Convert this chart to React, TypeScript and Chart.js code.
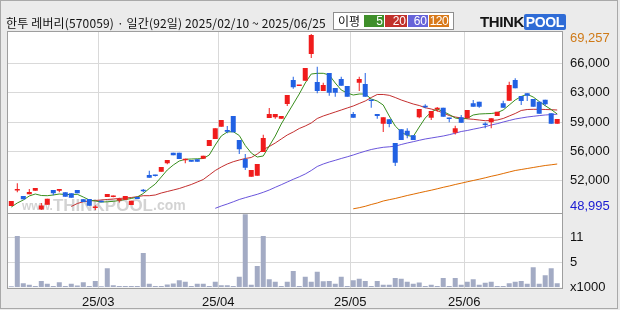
import React, { useEffect, useRef } from "react";
import { Chart, registerables } from "chart.js";

Chart.register(...registerables);

// ---------------- text ----------------
const TITLE = "한투 레버리(570059) · 일간(92일) 2025/02/10 ~ 2025/06/25";
const MA_LABEL = "이평";
const MA_PERIODS = ["5", "20", "60", "120"];
const WATERMARK = ["www.", "THINKPOOL", ".com"];

// ---------------- data (92 trading days, 2025/02/10 ~ 2025/06/25) ----------------
const opens = [
  49460, 51250, 50610, 50800, 51215, 49060, 49600, 51300, 51220, 51030,
  50920, 51300, 50230, 50260, 49230, 50070, 50490, 50500, 50100, 50180,
  49570, 50490, 51300, 53020, 53000, 53400, 54370, 55590, 55590, 54720,
  54750, 54830, 54900, 56360, 57170, 58590, 58200, 59820, 57050, 54870,
  52830, 52940, 55670, 59590, 59660, 59510, 61200, 63960, 63270, 63880,
  66950, 63730, 62700, 64770, 63040, 64080, 63270, 60050, 63650, 63500,
  61660, 60050, 58930, 59440, 56710, 58290, 58130, 57590, 59670, 61010,
  59620, 60580, 60770, 59620, 57890, 59670, 59550, 61280, 61470, 58900,
  59090, 59820, 61280, 61580, 63960, 62120, 62430, 61770, 61470, 61690,
  60130, 58930,
];
const highs = [
  50030, 52070, 50610, 51410, 51530, 49790, 50300, 51300, 51410, 51030,
  50920, 51300, 50230, 50260, 49530, 50070, 50840, 50650, 50400, 50610,
  50070, 50490, 51410, 53520, 53050, 53950, 54750, 55590, 55590, 54900,
  54750, 54830, 55250, 57050, 58400, 59360, 58660, 59820, 57050, 55440,
  53600, 54290, 57660, 60740, 60050, 59820, 62230, 64340, 63380, 65340,
  69257, 65490, 63650, 64770, 63040, 64340, 63270, 60280, 64340, 64770,
  61660, 60050, 59670, 59440, 56710, 58290, 58400, 57590, 60620, 61160,
  60390, 60850, 60770, 59620, 58680, 59930, 60510, 61660, 61470, 59100,
  59550, 60310, 61580, 63770, 64160, 62120, 62430, 61770, 61470, 61690,
  60130, 59470,
];
const lows = [
  49460, 51030, 50230, 50800, 51215, 48995, 49600, 50690, 51030, 50530,
  50410, 50920, 49920, 49490, 49000, 49880, 50490, 50450, 49850, 50180,
  49570, 50260, 51030, 52700, 52850, 53400, 54250, 55290, 54870, 54370,
  54560, 54560, 54900, 56360, 57170, 58590, 57820, 57940, 55440, 53600,
  52830, 52940, 55670, 59590, 59500, 59510, 60970, 62960, 63270, 63880,
  66490, 62430, 62700, 62150, 62040, 63300, 62040, 59620, 62700, 62040,
  60780, 59510, 57980, 58520, 54060, 57050, 57250, 57050, 59550, 60700,
  59360, 60320, 59740, 59090, 57700, 59050, 59550, 60890, 60770, 58400,
  58400, 59820, 60770, 61580, 63000, 61080, 61540, 60890, 60090, 61000,
  58930, 58930,
];
const closes = [
  50030, 51300, 50230, 51070, 51530, 49500, 50300, 50920, 51410, 50530,
  50410, 50920, 49920, 49490, 49260, 49880, 50840, 50600, 50150, 50610,
  50070, 50260, 51150, 52700, 52900, 53950, 54750, 55290, 54870, 54750,
  54560, 54560, 55250, 57050, 58400, 59360, 58010, 57940, 55980, 53860,
  53600, 54290, 57280, 60050, 60050, 59820, 62230, 63120, 63380, 65340,
  69140, 62700, 63380, 62500, 62500, 63300, 62040, 59620, 64080, 62040,
  61540, 59820, 59670, 58900, 54440, 57050, 57590, 57050, 60620, 60820,
  60390, 60620, 59740, 59470, 58400, 59050, 60510, 60890, 60890, 58780,
  59550, 60310, 60770, 63380, 63000, 61540, 62160, 60890, 60090, 61160,
  58930, 59470,
];
const volumes = [
  300, 11350, 950, 600, 350, 1450, 800, 350, 1150, 350,
  800, 450, 1150, 350, 1450, 300, 4250, 500, 350, 350,
  350, 350, 7600, 800, 350, 350, 650, 900, 1600, 1250,
  350, 800, 800, 350, 1250, 500, 500, 350, 2350, 16100,
  600, 4750, 11350, 1800, 1250, 350, 1250, 3650, 350, 2350,
  1250, 3450, 1400, 1450, 800, 2350, 350, 1600, 1900, 1450,
  350, 1450, 600, 600, 2100, 1900, 1250, 800, 1100, 350,
  600, 350, 2100, 350, 2100, 600, 1250, 1800, 600, 1050,
  1250, 350, 350, 950, 1250, 1450, 800, 4450, 800, 2700,
  4250, 950,
];

// moving averages as drawn (each starts at its own index)
const ma5Start = 0;
const ma5 = [
  49340, 49801, 50146, 50607, 50837, 50664, 50641, 50722, 50837, 50779,
  50779, 50802, 50491, 50146, 50031, 49916, 49939, 49996, 50088, 50204,
  50319, 50491, 50894, 51470, 51988, 52794, 53600, 54175, 54636, 54832,
  54866, 54889, 54924, 55327, 56478, 57514, 57975, 58009, 57572, 56420,
  55557, 55096, 55212, 56363, 57514, 58895, 60047, 61198, 62349, 63616,
  64652, 64732, 64732, 64537, 63616, 62810, 62464, 62234, 62349, 62349,
  61774, 61543, 61083, 59817, 58665, 57975, 57572, 57456, 58550, 59586,
  60277, 60622, 60335, 59989, 59586, 59471, 59552, 59932, 60047, 60081,
  60104, 60196, 60507, 61083, 61659, 62061, 62315, 62004, 61486, 61002,
  60565, 60047,
];
const ma20Start = 10;
const ma20 = [
  49398, 49743, 49950, 50031, 50088, 50146, 50204, 50261, 50319, 50376,
  50434, 50526, 50641, 50641, 50722, 50952, 51124, 51297, 51470, 51700,
  51930, 52218, 52506, 53023, 53542, 53945, 54290, 54555, 54751, 54924,
  55039, 55442, 55960, 56305, 56708, 57169, 57629, 57975, 58377, 58665,
  59011, 59529, 59817, 60047, 60277, 60507, 60738, 60968, 61256, 61543,
  61946, 62292, 62292, 62200, 61946, 61659, 61428, 61198, 61025, 60772,
  60622, 60427, 60162, 59874, 59701, 59586, 59494, 59437, 59356, 59275,
  59298, 59356, 59529, 59817, 60104, 60450, 60565, 60588, 60588, 60565,
  60542, 60507,
];
const ma60Start = 34;
const ma60 = [
  49190, 49455, 49685, 49939, 50204, 50411,
  50607, 50802, 51032, 51297, 51608, 51907, 52218, 52529, 52817, 53139,
  53542, 54003, 54290, 54521, 54716, 54924, 55119, 55327, 55557, 55764,
  55960, 56098, 56213, 56271, 56340, 56535, 56708, 56858, 57019, 57169,
  57284, 57399, 57514, 57664, 57836, 58032, 58147, 58297, 58435, 58585,
  58780, 58930, 59126, 59298, 59471, 59586, 59701, 59782, 59862, 59932,
  59978, 60024,
];
const ma120Start = 57;
const ma120 = [
  49133, 49260, 49421,
  49628, 49801, 50031, 50181, 50319, 50491, 50664, 50814, 50975, 51125,
  51274, 51435, 51608, 51758, 51930, 52080, 52241, 52391, 52541, 52702,
  52875, 53024, 53197, 53370, 53542, 53657, 53772, 53888, 54003, 54118,
  54198, 54290,
];

// axis ticks
const monthStartIndex = [15, 35, 57, 76];
const monthLabels = ["25/03", "25/04", "25/05", "25/06"];
const priceTicks = [48995, 52372, 55749, 59126, 62503, 65880, 69257];
const priceTickLabels = ["48,995", "52,000", "56,000", "59,000", "63,000", "66,000", "69,257"];
const volumeTicks = [0, 5500, 11000];
const volumeTickLabels = ["x1000", "5", "11"];
const volumeMax = 16500;

// ---------------- styles ----------------
const UP = "#f01c1c";
const DOWN = "#2161e3";
const VOL = "#a3abc4";
const GRID = "#d9d9d9";
const FRAME = "#9e9e9e";
const MA_COLORS = ["#3a8f1f", "#c42f2f", "#6a55dc", "#e06c00"];
const LEGEND_COLORS = ["#3f8f2a", "#c1312b", "#6764d9", "#d8791a"];
const AXIS_FONT = "'Liberation Sans', Arial, sans-serif";
const KR_FONT = "'Noto Sans CJK KR', 'Noto Sans', sans-serif";

const decorPlugin = {
  id: "decor",
  beforeDraw(chart: any) {
    const { ctx, chartArea: a } = chart;
    ctx.save();
    ctx.fillStyle = "#ffffff";
    ctx.fillRect(a.left, a.top, a.right - a.left, a.bottom - a.top);
    ctx.restore();
  },
  beforeDatasetsDraw(chart: any) {
    const { ctx, chartArea: a } = chart;
    ctx.save();
    ctx.fillStyle = "rgba(150,150,150,0.42)";
    ctx.textBaseline = "alphabetic";
    let x = a.left + 14;
    const base = 210;
    ctx.font = "bold 12px 'Liberation Sans', Arial, sans-serif";
    ctx.fillText(WATERMARK[0], x, base);
    x += ctx.measureText(WATERMARK[0]).width;
    ctx.font = "bold 17px 'Liberation Sans', Arial, sans-serif";
    ctx.fillText(WATERMARK[1], x, base + 1);
    x += ctx.measureText(WATERMARK[1]).width;
    ctx.font = "bold 14px 'Liberation Sans', Arial, sans-serif";
    ctx.fillText(WATERMARK[2], x, base);
    ctx.restore();
  },
  afterDatasetsDraw(chart: any) {
    const { ctx, chartArea: a } = chart;
    const sep = chart.scales.yVol.top;
    ctx.save();
    ctx.strokeStyle = FRAME;
    ctx.lineWidth = 1;
    ctx.strokeRect(Math.round(a.left) - 0.5, Math.round(a.top) - 0.5, Math.round(a.right - a.left) + 1, Math.round(a.bottom - a.top) + 1);
    ctx.beginPath();
    ctx.moveTo(a.left, Math.round(sep) + 0.5);
    ctx.lineTo(a.right, Math.round(sep) + 0.5);
    ctx.stroke();
    ctx.restore();
  },
};

export default function App() {
  const ref = useRef<HTMLCanvasElement>(null);

  useEffect(() => {
    const canvas = ref.current;
    if (!canvas) return;
    const idx = closes.map((_, i) => i);
    const colors = idx.map((i) => (closes[i] >= opens[i] ? UP : DOWN));
    const bodies = idx.map((i) => ({ x: i, y: [opens[i], closes[i]] }));
    const wicks = idx.map((i) => ({ x: i, y: [lows[i], highs[i]] }));
    const vols = idx.map((i) => ({ x: i, y: volumes[i] }));
    const maPoints = (arr: number[], start: number) => arr.map((v, j) => ({ x: start + j, y: v }));

    const pxPerPrice = (priceTicks[priceTicks.length - 1] - priceTicks[0]) / 176;
    const priceMin = priceTicks[0] - 2.5 * pxPerPrice;
    const priceMax = priceTicks[priceTicks.length - 1] + 2 * pxPerPrice;
    const lastP = priceTicks.length - 1;

    const maDs = [ma5, ma20, ma60, ma120].map((arr, k) => ({
      type: "line" as const,
      label: "MA" + MA_PERIODS[k],
      data: maPoints(arr, [ma5Start, ma20Start, ma60Start, ma120Start][k]),
      borderColor: MA_COLORS[k],
      borderWidth: 1,
      pointRadius: 0,
      tension: 0,
      fill: false,
      yAxisID: "y",
      order: 2,
    }));

    const chart = new Chart(canvas, {
      type: "bar",
      data: {
        datasets: [
          {
            type: "bar",
            label: "body",
            data: bodies as any,
            backgroundColor: colors,
            barThickness: 5,
            minBarLength: 1.5,
            grouped: false,
            inflateAmount: 0,
            yAxisID: "y",
            order: 0,
          },
          {
            type: "bar",
            label: "wick",
            data: wicks as any,
            backgroundColor: colors,
            barThickness: 1,
            grouped: false,
            inflateAmount: 0,
            yAxisID: "y",
            order: 1,
          },
          ...(maDs as any[]),
          {
            type: "bar",
            label: "volume",
            data: vols as any,
            backgroundColor: VOL,
            barThickness: 5,
            grouped: false,
            inflateAmount: 0,
            yAxisID: "yVol",
            order: 3,
          },
        ],
      },
      options: {
        responsive: false,
        animation: false,
        devicePixelRatio: 1,
        layout: { padding: { left: 8, top: 32, right: 0, bottom: 0 } },
        plugins: { legend: { display: false }, tooltip: { enabled: false } },
        scales: {
          x: {
            type: "linear",
            position: "bottom",
            min: -0.55,
            max: 91.8,
            offset: false,
            bounds: "data",
            border: { display: false },
            grid: { color: GRID, drawTicks: false, offset: false },
            afterBuildTicks: (s: any) => {
              s.ticks = monthStartIndex.map((v) => ({ value: v - 0.5 }));
            },
            afterFit: (s: any) => {
              s.height = 22.5;
            },
            ticks: {
              autoSkip: false,
              maxRotation: 0,
              minRotation: 0,
              padding: 7,
              color: "#111",
              font: { family: AXIS_FONT, size: 13 },
              callback: (_v: any, i: number) => monthLabels[i],
            },
          },
          y: {
            type: "linear",
            position: "right",
            stack: "v",
            stackWeight: 180.5,
            min: priceMin,
            max: priceMax,
            bounds: "data",
            border: { display: false },
            grid: {
              drawTicks: false,
              color: (c: any) => (c.index === 0 || c.index === lastP ? "rgba(0,0,0,0)" : GRID),
            },
            afterBuildTicks: (s: any) => {
              s.ticks = priceTicks.map((v) => ({ value: v }));
            },
            afterFit: (s: any) => {
              s.width = 58;
            },
            ticks: {
              autoSkip: false,
              padding: 8,
              color: (c: any) => (c.index === 0 ? "#1a1ad2" : c.index === lastP ? "#cf7a18" : "#111"),
              font: (c: any) => ({
                family: AXIS_FONT,
                size: 13,
                lineHeight: c.index === 0 ? "6.6px" : c.index === lastP ? "8px" : 1.2,
              }),
              callback: (_v: any, i: number) =>
                i === 0 ? [priceTickLabels[0], ""] : i === lastP ? ["", priceTickLabels[lastP]] : priceTickLabels[i],
            },
          },
          yVol: {
            type: "linear",
            position: "right",
            stack: "v",
            stackWeight: 75,
            min: 0,
            max: volumeMax,
            bounds: "data",
            border: { display: false },
            grid: {
              drawTicks: false,
              color: (c: any) => (c.index === 0 ? "rgba(0,0,0,0)" : GRID),
            },
            afterBuildTicks: (s: any) => {
              s.ticks = volumeTicks.map((v) => ({ value: v }));
            },
            afterFit: (s: any) => {
              s.width = 58;
            },
            ticks: {
              autoSkip: false,
              padding: 8,
              color: "#111",
              font: { family: AXIS_FONT, size: 13 },
              callback: (_v: any, i: number) => volumeTickLabels[i],
            },
          },
        },
      } as any,
      plugins: [decorPlugin],
    });
    return () => chart.destroy();
  }, []);

  const legendBoxes = [
    { left: 30, width: 20 },
    { left: 51, width: 22 },
    { left: 74, width: 20 },
    { left: 95, width: 20 },
  ];

  return (
    <div
      style={{
        position: "fixed",
        left: 0,
        top: 0,
        width: 620,
        height: 310,
        background: "#ebebeb",
        overflow: "hidden",
      }}
    >
      <canvas
        ref={ref}
        width={620}
        height={310}
        style={{ position: "absolute", left: 0, top: 0, width: 620, height: 310 }}
      />
      <div
        style={{
          position: "absolute",
          left: 0,
          top: 0,
          width: 618,
          height: 309,
          border: "1px solid #a9a9a9",
          boxSizing: "border-box",
          pointerEvents: "none",
        }}
      />
      <div
        style={{
          position: "absolute",
          left: 6,
          top: 14,
          fontFamily: KR_FONT,
          fontSize: 12,
          letterSpacing: 0.15,
          lineHeight: "17px",
          color: "#111",
          whiteSpace: "nowrap",
        }}
      >
        {TITLE}
      </div>
      <div
        style={{
          position: "absolute",
          left: 333,
          top: 12,
          width: 121,
          height: 18,
          boxSizing: "border-box",
          border: "1px solid #8e8e8e",
          background: "#fff",
        }}
      >
        <div
          style={{
            position: "absolute",
            left: 4,
            top: 0,
            fontFamily: KR_FONT,
            fontSize: 12,
            lineHeight: "16px",
            color: "#111",
          }}
        >
          {MA_LABEL}
        </div>
        {MA_PERIODS.map((p, k) => (
          <div
            key={p}
            style={{
              position: "absolute",
              left: legendBoxes[k].left,
              top: 2,
              width: legendBoxes[k].width,
              height: 12,
              background: LEGEND_COLORS[k],
              color: "#fff",
              fontFamily: AXIS_FONT,
              fontSize: 12,
              letterSpacing: p.length > 2 ? -0.6 : 0,
              lineHeight: "12px",
              textAlign: "right",
              paddingRight: 1,
              boxSizing: "border-box",
              overflow: "hidden",
              whiteSpace: "nowrap",
            }}
          >
            {p}
          </div>
        ))}
      </div>
      <div
        style={{
          position: "absolute",
          left: 480,
          top: 13,
          height: 17,
          whiteSpace: "nowrap",
          fontFamily: "'Liberation Sans', Arial, sans-serif",
          fontWeight: 900,
          fontSize: 15,
          lineHeight: "17px",
          letterSpacing: -0.4,
        }}
      >
        <span style={{ color: "#151515" }}>THINK</span>
        <span
          style={{
            color: "#fff",
            background: "#2f6cd6",
            padding: "0 2px",
            borderRadius: 2,
            fontSize: 14,
          }}
        >
          POOL
        </span>
      </div>
    </div>
  );
}
